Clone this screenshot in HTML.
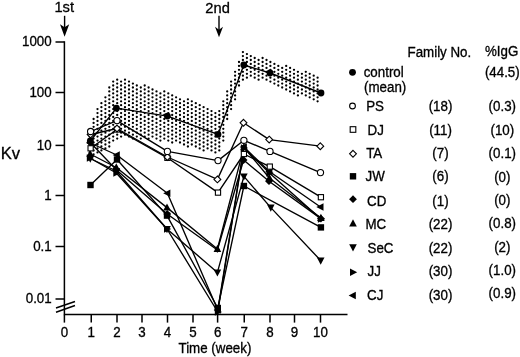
<!DOCTYPE html>
<html><head><meta charset="utf-8"><title>Kv time course</title>
<style>
html,body{margin:0;padding:0;background:#fff;}
body{width:520px;height:357px;overflow:hidden;}
svg{display:block;will-change:transform;}
text{font-family:"Liberation Sans",Arial,Helvetica,sans-serif;fill:#000;stroke:#000;stroke-width:0.3px;}
</style></head><body>
<svg width="520" height="357" viewBox="0 0 520 357">
<rect width="520" height="357" fill="#fff"/>
<path d="M89.7 132.7h0M89.7 136.6h0M89.7 140.6h0M89.7 144.5h0M89.7 148.4h0M89.7 152.4h0M93.6 119.0h0M93.6 122.9h0M93.6 126.8h0M93.6 130.7h0M93.6 134.7h0M93.6 138.6h0M93.6 142.5h0M93.6 146.5h0M93.6 150.4h0M93.6 154.3h0M97.5 109.1h0M97.5 113.1h0M97.5 117.0h0M97.5 120.9h0M97.5 124.8h0M97.5 128.8h0M97.5 132.7h0M97.5 136.6h0M97.5 140.6h0M97.5 144.5h0M97.5 148.4h0M97.5 152.4h0M101.4 103.2h0M101.4 107.2h0M101.4 111.1h0M101.4 115.0h0M101.4 119.0h0M101.4 122.9h0M101.4 126.8h0M101.4 130.7h0M101.4 134.7h0M101.4 138.6h0M101.4 142.5h0M101.4 146.5h0M101.4 150.4h0M105.4 97.3h0M105.4 101.3h0M105.4 105.2h0M105.4 109.1h0M105.4 113.1h0M105.4 117.0h0M105.4 120.9h0M105.4 124.8h0M105.4 128.8h0M105.4 132.7h0M105.4 136.6h0M105.4 140.6h0M105.4 144.5h0M105.4 148.4h0M109.3 87.5h0M109.3 91.4h0M109.3 95.4h0M109.3 99.3h0M109.3 103.2h0M109.3 107.2h0M109.3 111.1h0M109.3 115.0h0M109.3 119.0h0M109.3 122.9h0M109.3 126.8h0M109.3 130.7h0M109.3 134.7h0M109.3 138.6h0M109.3 142.5h0M109.3 146.5h0M113.2 81.6h0M113.2 85.5h0M113.2 89.5h0M113.2 93.4h0M113.2 97.3h0M113.2 101.3h0M113.2 105.2h0M113.2 109.1h0M113.2 113.1h0M113.2 117.0h0M113.2 120.9h0M113.2 124.8h0M113.2 128.8h0M113.2 132.7h0M113.2 136.6h0M113.2 140.6h0M117.2 79.7h0M117.2 83.6h0M117.2 87.5h0M117.2 91.4h0M117.2 95.4h0M117.2 99.3h0M117.2 103.2h0M117.2 107.2h0M117.2 111.1h0M117.2 115.0h0M117.2 119.0h0M117.2 122.9h0M117.2 126.8h0M117.2 130.7h0M117.2 134.7h0M117.2 138.6h0M121.1 81.6h0M121.1 85.5h0M121.1 89.5h0M121.1 93.4h0M121.1 97.3h0M121.1 101.3h0M121.1 105.2h0M121.1 109.1h0M121.1 113.1h0M121.1 117.0h0M121.1 120.9h0M121.1 124.8h0M121.1 128.8h0M121.1 132.7h0M121.1 136.6h0M125.0 79.7h0M125.0 83.6h0M125.0 87.5h0M125.0 91.4h0M125.0 95.4h0M125.0 99.3h0M125.0 103.2h0M125.0 107.2h0M125.0 111.1h0M125.0 115.0h0M125.0 119.0h0M125.0 122.9h0M125.0 126.8h0M125.0 130.7h0M125.0 134.7h0M129.0 81.6h0M129.0 85.5h0M129.0 89.5h0M129.0 93.4h0M129.0 97.3h0M129.0 101.3h0M129.0 105.2h0M129.0 109.1h0M129.0 113.1h0M129.0 117.0h0M129.0 120.9h0M129.0 124.8h0M129.0 128.8h0M129.0 132.7h0M129.0 136.6h0M132.9 83.6h0M132.9 87.5h0M132.9 91.4h0M132.9 95.4h0M132.9 99.3h0M132.9 103.2h0M132.9 107.2h0M132.9 111.1h0M132.9 115.0h0M132.9 119.0h0M132.9 122.9h0M132.9 126.8h0M132.9 130.7h0M132.9 134.7h0M132.9 138.6h0M136.8 85.5h0M136.8 89.5h0M136.8 93.4h0M136.8 97.3h0M136.8 101.3h0M136.8 105.2h0M136.8 109.1h0M136.8 113.1h0M136.8 117.0h0M136.8 120.9h0M136.8 124.8h0M136.8 128.8h0M136.8 132.7h0M136.8 136.6h0M140.8 87.5h0M140.8 91.4h0M140.8 95.4h0M140.8 99.3h0M140.8 103.2h0M140.8 107.2h0M140.8 111.1h0M140.8 115.0h0M140.8 119.0h0M140.8 122.9h0M140.8 126.8h0M140.8 130.7h0M140.8 134.7h0M140.8 138.6h0M144.7 85.5h0M144.7 89.5h0M144.7 93.4h0M144.7 97.3h0M144.7 101.3h0M144.7 105.2h0M144.7 109.1h0M144.7 113.1h0M144.7 117.0h0M144.7 120.9h0M144.7 124.8h0M144.7 128.8h0M144.7 132.7h0M144.7 136.6h0M148.6 87.5h0M148.6 91.4h0M148.6 95.4h0M148.6 99.3h0M148.6 103.2h0M148.6 107.2h0M148.6 111.1h0M148.6 115.0h0M148.6 119.0h0M148.6 122.9h0M148.6 126.8h0M148.6 130.7h0M148.6 134.7h0M148.6 138.6h0M152.5 89.5h0M152.5 93.4h0M152.5 97.3h0M152.5 101.3h0M152.5 105.2h0M152.5 109.1h0M152.5 113.1h0M152.5 117.0h0M152.5 120.9h0M152.5 124.8h0M152.5 128.8h0M152.5 132.7h0M152.5 136.6h0M156.5 91.4h0M156.5 95.4h0M156.5 99.3h0M156.5 103.2h0M156.5 107.2h0M156.5 111.1h0M156.5 115.0h0M156.5 119.0h0M156.5 122.9h0M156.5 126.8h0M156.5 130.7h0M156.5 134.7h0M156.5 138.6h0M160.4 93.4h0M160.4 97.3h0M160.4 101.3h0M160.4 105.2h0M160.4 109.1h0M160.4 113.1h0M160.4 117.0h0M160.4 120.9h0M160.4 124.8h0M160.4 128.8h0M160.4 132.7h0M160.4 136.6h0M160.4 140.6h0M164.3 91.4h0M164.3 95.4h0M164.3 99.3h0M164.3 103.2h0M164.3 107.2h0M164.3 111.1h0M164.3 115.0h0M164.3 119.0h0M164.3 122.9h0M164.3 126.8h0M164.3 130.7h0M164.3 134.7h0M164.3 138.6h0M168.3 93.4h0M168.3 97.3h0M168.3 101.3h0M168.3 105.2h0M168.3 109.1h0M168.3 113.1h0M168.3 117.0h0M168.3 120.9h0M168.3 124.8h0M168.3 128.8h0M168.3 132.7h0M168.3 136.6h0M168.3 140.6h0M172.2 95.4h0M172.2 99.3h0M172.2 103.2h0M172.2 107.2h0M172.2 111.1h0M172.2 115.0h0M172.2 119.0h0M172.2 122.9h0M172.2 126.8h0M172.2 130.7h0M172.2 134.7h0M172.2 138.6h0M172.2 142.5h0M176.1 97.3h0M176.1 101.3h0M176.1 105.2h0M176.1 109.1h0M176.1 113.1h0M176.1 117.0h0M176.1 120.9h0M176.1 124.8h0M176.1 128.8h0M176.1 132.7h0M176.1 136.6h0M176.1 140.6h0M180.0 99.3h0M180.0 103.2h0M180.0 107.2h0M180.0 111.1h0M180.0 115.0h0M180.0 119.0h0M180.0 122.9h0M180.0 126.8h0M180.0 130.7h0M180.0 134.7h0M180.0 138.6h0M180.0 142.5h0M184.0 101.3h0M184.0 105.2h0M184.0 109.1h0M184.0 113.1h0M184.0 117.0h0M184.0 120.9h0M184.0 124.8h0M184.0 128.8h0M184.0 132.7h0M184.0 136.6h0M184.0 140.6h0M184.0 144.5h0M187.9 99.3h0M187.9 103.2h0M187.9 107.2h0M187.9 111.1h0M187.9 115.0h0M187.9 119.0h0M187.9 122.9h0M187.9 126.8h0M187.9 130.7h0M187.9 134.7h0M187.9 138.6h0M187.9 142.5h0M187.9 146.5h0M191.8 101.3h0M191.8 105.2h0M191.8 109.1h0M191.8 113.1h0M191.8 117.0h0M191.8 120.9h0M191.8 124.8h0M191.8 128.8h0M191.8 132.7h0M191.8 136.6h0M191.8 140.6h0M191.8 144.5h0M195.8 103.2h0M195.8 107.2h0M195.8 111.1h0M195.8 115.0h0M195.8 119.0h0M195.8 122.9h0M195.8 126.8h0M195.8 130.7h0M195.8 134.7h0M195.8 138.6h0M195.8 142.5h0M195.8 146.5h0M199.7 105.2h0M199.7 109.1h0M199.7 113.1h0M199.7 117.0h0M199.7 120.9h0M199.7 124.8h0M199.7 128.8h0M199.7 132.7h0M199.7 136.6h0M199.7 140.6h0M199.7 144.5h0M199.7 148.4h0M203.6 107.2h0M203.6 111.1h0M203.6 115.0h0M203.6 119.0h0M203.6 122.9h0M203.6 126.8h0M203.6 130.7h0M203.6 134.7h0M203.6 138.6h0M203.6 142.5h0M203.6 146.5h0M203.6 150.4h0M207.6 109.1h0M207.6 113.1h0M207.6 117.0h0M207.6 120.9h0M207.6 124.8h0M207.6 128.8h0M207.6 132.7h0M207.6 136.6h0M207.6 140.6h0M207.6 144.5h0M207.6 148.4h0M211.5 111.1h0M211.5 115.0h0M211.5 119.0h0M211.5 122.9h0M211.5 126.8h0M211.5 130.7h0M211.5 134.7h0M211.5 138.6h0M211.5 142.5h0M211.5 146.5h0M211.5 150.4h0M215.4 113.1h0M215.4 117.0h0M215.4 120.9h0M215.4 124.8h0M215.4 128.8h0M215.4 132.7h0M215.4 136.6h0M215.4 140.6h0M215.4 144.5h0M215.4 148.4h0M215.4 152.4h0M219.3 111.1h0M219.3 115.0h0M219.3 119.0h0M219.3 122.9h0M219.3 126.8h0M219.3 130.7h0M219.3 134.7h0M219.3 138.6h0M219.3 142.5h0M219.3 146.5h0M219.3 150.4h0M223.3 101.3h0M223.3 105.2h0M223.3 109.1h0M223.3 113.1h0M223.3 117.0h0M223.3 120.9h0M223.3 124.8h0M223.3 128.8h0M223.3 132.7h0M223.3 136.6h0M223.3 140.6h0M227.2 91.4h0M227.2 95.4h0M227.2 99.3h0M227.2 103.2h0M227.2 107.2h0M227.2 111.1h0M227.2 115.0h0M227.2 119.0h0M231.1 81.6h0M231.1 85.5h0M231.1 89.5h0M231.1 93.4h0M231.1 97.3h0M231.1 101.3h0M231.1 105.2h0M231.1 109.1h0M235.1 71.8h0M235.1 75.7h0M235.1 79.7h0M235.1 83.6h0M235.1 87.5h0M235.1 91.4h0M235.1 95.4h0M235.1 99.3h0M239.0 62.0h0M239.0 65.9h0M239.0 69.8h0M239.0 73.8h0M239.0 77.7h0M239.0 81.6h0M239.0 85.5h0M242.9 52.1h0M242.9 56.1h0M242.9 60.0h0M242.9 63.9h0M242.9 67.9h0M242.9 71.8h0M242.9 75.7h0M242.9 79.7h0M246.9 54.1h0M246.9 58.0h0M246.9 62.0h0M246.9 65.9h0M246.9 69.8h0M246.9 73.8h0M246.9 77.7h0M250.8 56.1h0M250.8 60.0h0M250.8 63.9h0M250.8 67.9h0M250.8 71.8h0M250.8 75.7h0M254.7 58.0h0M254.7 62.0h0M254.7 65.9h0M254.7 69.8h0M254.7 73.8h0M254.7 77.7h0M258.6 60.0h0M258.6 63.9h0M258.6 67.9h0M258.6 71.8h0M258.6 75.7h0M258.6 79.7h0M262.6 58.0h0M262.6 62.0h0M262.6 65.9h0M262.6 69.8h0M262.6 73.8h0M262.6 77.7h0M266.5 60.0h0M266.5 63.9h0M266.5 67.9h0M266.5 71.8h0M266.5 75.7h0M266.5 79.7h0M270.4 62.0h0M270.4 65.9h0M270.4 69.8h0M270.4 73.8h0M270.4 77.7h0M270.4 81.6h0M274.4 63.9h0M274.4 67.9h0M274.4 71.8h0M274.4 75.7h0M274.4 79.7h0M274.4 83.6h0M278.3 65.9h0M278.3 69.8h0M278.3 73.8h0M278.3 77.7h0M278.3 81.6h0M278.3 85.5h0M282.2 67.9h0M282.2 71.8h0M282.2 75.7h0M282.2 79.7h0M282.2 83.6h0M282.2 87.5h0M286.2 65.9h0M286.2 69.8h0M286.2 73.8h0M286.2 77.7h0M286.2 81.6h0M286.2 85.5h0M286.2 89.5h0M290.1 67.9h0M290.1 71.8h0M290.1 75.7h0M290.1 79.7h0M290.1 83.6h0M290.1 87.5h0M290.1 91.4h0M294.0 69.8h0M294.0 73.8h0M294.0 77.7h0M294.0 81.6h0M294.0 85.5h0M294.0 89.5h0M294.0 93.4h0M297.9 71.8h0M297.9 75.7h0M297.9 79.7h0M297.9 83.6h0M297.9 87.5h0M297.9 91.4h0M297.9 95.4h0M301.9 73.8h0M301.9 77.7h0M301.9 81.6h0M301.9 85.5h0M301.9 89.5h0M301.9 93.4h0M305.8 71.8h0M305.8 75.7h0M305.8 79.7h0M305.8 83.6h0M305.8 87.5h0M305.8 91.4h0M305.8 95.4h0M309.7 73.8h0M309.7 77.7h0M309.7 81.6h0M309.7 85.5h0M309.7 89.5h0M309.7 93.4h0M309.7 97.3h0M313.7 75.7h0M313.7 79.7h0M313.7 83.6h0M313.7 87.5h0M313.7 91.4h0M313.7 95.4h0M313.7 99.3h0M317.6 77.7h0M317.6 81.6h0M317.6 85.5h0M317.6 89.5h0M317.6 93.4h0M317.6 97.3h0M317.6 101.3h0" stroke="#000" stroke-width="2.3" stroke-linecap="round" fill="none"/>
<g stroke="#000" stroke-width="1.5" fill="none">
<path d="M64.4 41.3V314.6H347.5"/>
<path d="M55.5 42H64.4"/>
<path d="M55.5 92.5H64.4"/>
<path d="M55.5 145.4H64.4"/>
<path d="M55.5 195.5H64.4"/>
<path d="M55.5 246.5H64.4"/>
<path d="M55.5 299H64.4"/>
<path d="M64.4 314.6V322.6"/>
<path d="M91.25 314.6V322.6"/>
<path d="M117 314.6V322.6"/>
<path d="M142 314.6V322.6"/>
<path d="M167.5 314.6V322.6"/>
<path d="M193 314.6V322.6"/>
<path d="M217.6 314.6V322.6"/>
<path d="M244.25 314.6V322.6"/>
<path d="M270 314.6V322.6"/>
<path d="M294.5 314.6V322.6"/>
<path d="M320.5 314.6V322.6"/>
<path d="M56 308L75 301.5M56 312.2L75 305.5"/>
</g>
<path d="M64.6 15.8V30.700000000000003" stroke="#000" stroke-width="1.4" fill="none"/>
<path d="M64.6 36.7L59.99999999999999 24.200000000000003L64.6 27.200000000000003L69.19999999999999 24.200000000000003Z" fill="#000"/>
<path d="M219 15.8V31.200000000000003" stroke="#000" stroke-width="1.4" fill="none"/>
<path d="M219 37.2L215.0 26.700000000000003L219 29.700000000000003L223.0 26.700000000000003Z" fill="#000"/>
<polyline points="90.3,143 116.8,155 167.4,193.3 217.8,310 243.9,147 269.4,171.5 320.5,207" stroke="#000" stroke-width="1.35" fill="none" stroke-linejoin="round"/>
<polyline points="89.8,158 116.3,173 167,229 217.8,312 243.9,148 269.4,173 320.9,219" stroke="#000" stroke-width="1.35" fill="none" stroke-linejoin="round"/>
<polyline points="90.3,158.5 116.3,171 167,229 217.4,272.4 243.9,176.4 270.8,207.6 320.7,260.5" stroke="#000" stroke-width="1.35" fill="none" stroke-linejoin="round"/>
<polyline points="90.2,154 116.3,167.5 167,207.6 217.4,249 243.9,147.3 269.4,178 320.9,218" stroke="#000" stroke-width="1.35" fill="none" stroke-linejoin="round"/>
<polyline points="90.3,142.5 116.5,170 167.2,214 217.4,250 243.6,160 269,181.2 320.9,218.6" stroke="#000" stroke-width="1.35" fill="none" stroke-linejoin="round"/>
<polyline points="90.5,185 117,159.5 167,215.6 217.8,308 243.9,186 320.9,227.4" stroke="#000" stroke-width="1.35" fill="none" stroke-linejoin="round"/>
<polyline points="90.6,134.5 117,128.5 167.4,157 217.4,179.4 243.5,122.8 269.2,139.6 320.3,146.2" stroke="#000" stroke-width="1.35" fill="none" stroke-linejoin="round"/>
<polyline points="90.6,148.3 117,129.5 167.4,157.8 218,192.6 243.9,154 269.8,166.6 320.9,197.2" stroke="#000" stroke-width="1.35" fill="none" stroke-linejoin="round"/>
<polyline points="90.6,131.5 117,120.6 167.4,151.4 218,160.6 243.9,140.3 270,151.4 320.5,172.6" stroke="#000" stroke-width="1.35" fill="none" stroke-linejoin="round"/>
<polyline points="90.3,141 116.4,108.2 167.4,116.1 218,134.4 243.8,65 270,73 321,93" stroke="#000" stroke-width="1.35" fill="none" stroke-linejoin="round"/>
<path d="M86.1 143L93.3 139.2L93.3 146.8Z" fill="#000"/>
<path d="M112.6 155L119.8 151.2L119.8 158.8Z" fill="#000"/>
<path d="M163.20000000000002 193.3L170.4 189.5L170.4 197.10000000000002Z" fill="#000"/>
<path d="M213.60000000000002 310L220.8 306.2L220.8 313.8Z" fill="#000"/>
<path d="M239.70000000000002 147L246.9 143.2L246.9 150.8Z" fill="#000"/>
<path d="M265.2 171.5L272.4 167.7L272.4 175.3Z" fill="#000"/>
<path d="M316.3 207L323.5 203.2L323.5 210.8Z" fill="#000"/>
<path d="M94.0 158L86.8 154.2L86.8 161.8Z" fill="#000"/>
<path d="M120.5 173L113.3 169.2L113.3 176.8Z" fill="#000"/>
<path d="M171.2 229L164.0 225.2L164.0 232.8Z" fill="#000"/>
<path d="M222.0 312L214.8 308.2L214.8 315.8Z" fill="#000"/>
<path d="M248.1 148L240.9 144.2L240.9 151.8Z" fill="#000"/>
<path d="M273.59999999999997 173L266.4 169.2L266.4 176.8Z" fill="#000"/>
<path d="M325.09999999999997 219L317.9 215.2L317.9 222.8Z" fill="#000"/>
<path d="M90.3 162.7L94.1 155.5L86.5 155.5Z" fill="#000"/>
<path d="M116.3 175.2L120.1 168.0L112.5 168.0Z" fill="#000"/>
<path d="M167 233.2L170.8 226.0L163.2 226.0Z" fill="#000"/>
<path d="M217.4 276.59999999999997L221.20000000000002 269.4L213.6 269.4Z" fill="#000"/>
<path d="M243.9 180.6L247.70000000000002 173.4L240.1 173.4Z" fill="#000"/>
<path d="M270.8 211.79999999999998L274.6 204.6L267.0 204.6Z" fill="#000"/>
<path d="M320.7 264.7L324.5 257.5L316.9 257.5Z" fill="#000"/>
<path d="M90.3 138.6L94.2 142.5L90.3 146.4L86.39999999999999 142.5Z" fill="#000"/>
<path d="M116.5 166.1L120.4 170L116.5 173.9L112.6 170Z" fill="#000"/>
<path d="M167.2 210.1L171.1 214L167.2 217.9L163.29999999999998 214Z" fill="#000"/>
<path d="M217.4 247.192L220.208 250L217.4 252.808L214.592 250Z" fill="#000"/>
<path d="M90.2 149.8L94.0 157.0L86.4 157.0Z" fill="#000"/>
<path d="M116.3 163.3L120.1 170.5L112.5 170.5Z" fill="#000"/>
<path d="M167 203.4L170.8 210.6L163.2 210.6Z" fill="#000"/>
<path d="M217.4 244.8L221.20000000000002 252.0L213.6 252.0Z" fill="#000"/>
<path d="M243.9 143.10000000000002L247.70000000000002 150.3L240.1 150.3Z" fill="#000"/>
<path d="M269.4 173.8L273.2 181.0L265.59999999999997 181.0Z" fill="#000"/>
<path d="M320.9 213.8L324.7 221.0L317.09999999999997 221.0Z" fill="#000"/>
<path d="M243.6 156.1L247.5 160L243.6 163.9L239.7 160Z" fill="#000"/>
<path d="M269 177.29999999999998L272.9 181.2L269 185.1L265.1 181.2Z" fill="#000"/>
<path d="M320.9 214.7L324.79999999999995 218.6L320.9 222.5L317.0 218.6Z" fill="#000"/>
<rect x="87.3" y="181.8" width="6.4" height="6.4" fill="#000"/>
<rect x="113.8" y="156.3" width="6.4" height="6.4" fill="#000"/>
<rect x="163.8" y="212.4" width="6.4" height="6.4" fill="#000"/>
<rect x="214.60000000000002" y="304.8" width="6.4" height="6.4" fill="#000"/>
<rect x="240.70000000000002" y="182.8" width="6.4" height="6.4" fill="#000"/>
<rect x="317.7" y="224.20000000000002" width="6.4" height="6.4" fill="#000"/>
<rect x="88.0" y="145.70000000000002" width="5.2" height="5.2" fill="#fff" stroke="#000" stroke-width="1.1"/>
<rect x="114.4" y="126.9" width="5.2" height="5.2" fill="#fff" stroke="#000" stroke-width="1.1"/>
<rect x="164.8" y="155.20000000000002" width="5.2" height="5.2" fill="#fff" stroke="#000" stroke-width="1.1"/>
<rect x="215.4" y="190.0" width="5.2" height="5.2" fill="#fff" stroke="#000" stroke-width="1.1"/>
<rect x="241.3" y="151.4" width="5.2" height="5.2" fill="#fff" stroke="#000" stroke-width="1.1"/>
<rect x="267.2" y="164.0" width="5.2" height="5.2" fill="#fff" stroke="#000" stroke-width="1.1"/>
<rect x="318.29999999999995" y="194.6" width="5.2" height="5.2" fill="#fff" stroke="#000" stroke-width="1.1"/>
<path d="M90.6 131.1L94.0 134.5L90.6 137.9L87.19999999999999 134.5Z" fill="#fff" stroke="#000" stroke-width="1.1"/>
<path d="M117 125.1L120.4 128.5L117 131.9L113.6 128.5Z" fill="#fff" stroke="#000" stroke-width="1.1"/>
<path d="M167.4 153.6L170.8 157L167.4 160.4L164.0 157Z" fill="#fff" stroke="#000" stroke-width="1.1"/>
<path d="M217.4 176.0L220.8 179.4L217.4 182.8L214.0 179.4Z" fill="#fff" stroke="#000" stroke-width="1.1"/>
<path d="M243.5 119.39999999999999L246.9 122.8L243.5 126.2L240.1 122.8Z" fill="#fff" stroke="#000" stroke-width="1.1"/>
<path d="M269.2 136.2L272.59999999999997 139.6L269.2 143.0L265.8 139.6Z" fill="#fff" stroke="#000" stroke-width="1.1"/>
<path d="M320.3 142.79999999999998L323.7 146.2L320.3 149.6L316.90000000000003 146.2Z" fill="#fff" stroke="#000" stroke-width="1.1"/>
<circle cx="90.6" cy="131.5" r="3.1" fill="#fff" stroke="#000" stroke-width="1.1"/>
<circle cx="117" cy="120.6" r="3.1" fill="#fff" stroke="#000" stroke-width="1.1"/>
<circle cx="167.4" cy="151.4" r="3.1" fill="#fff" stroke="#000" stroke-width="1.1"/>
<circle cx="218" cy="160.6" r="3.1" fill="#fff" stroke="#000" stroke-width="1.1"/>
<circle cx="243.9" cy="140.3" r="3.1" fill="#fff" stroke="#000" stroke-width="1.1"/>
<circle cx="270" cy="151.4" r="3.1" fill="#fff" stroke="#000" stroke-width="1.1"/>
<circle cx="320.5" cy="172.6" r="3.1" fill="#fff" stroke="#000" stroke-width="1.1"/>
<circle cx="90.3" cy="141" r="3.4" fill="#000"/>
<circle cx="116.4" cy="108.2" r="3.4" fill="#000"/>
<circle cx="167.4" cy="116.1" r="3.4" fill="#000"/>
<circle cx="218" cy="134.4" r="3.4" fill="#000"/>
<circle cx="243.8" cy="65" r="3.4" fill="#000"/>
<circle cx="270" cy="73" r="3.4" fill="#000"/>
<circle cx="321" cy="93" r="3.4" fill="#000"/>
<circle cx="352.5" cy="72.3" r="3.4" fill="#000"/>
<circle cx="352.5" cy="106" r="2.8830000000000005" fill="#fff" stroke="#000" stroke-width="1.1"/>
<rect x="350.192" y="126.692" width="5.6160000000000005" height="5.6160000000000005" fill="#fff" stroke="#000" stroke-width="1.1"/>
<path d="M353 150.4L356.4 153.8L353 157.20000000000002L349.6 153.8Z" fill="#fff" stroke="#000" stroke-width="1.1"/>
<rect x="349.8" y="173.10000000000002" width="6.4" height="6.4" fill="#000"/>
<path d="M353 195.29999999999998L356.9 199.2L353 203.1L349.1 199.2Z" fill="#000"/>
<path d="M353 219.3L356.8 226.5L349.2 226.5Z" fill="#000"/>
<path d="M353 251.5L356.8 244.3L349.2 244.3Z" fill="#000"/>
<path d="M357.2 272.3L350.0 268.5L350.0 276.1Z" fill="#000"/>
<path d="M348.6 295.5L355.8 291.7L355.8 299.3Z" fill="#000"/>
<text transform="translate(64.2 12.2) scale(1 1.045)" font-size="14.7" text-anchor="middle" >1st</text>
<text transform="translate(217.6 12.8) scale(1 1.045)" font-size="14.7" text-anchor="middle" >2nd</text>
<text transform="translate(51.7 46.4) scale(1 1.045)" font-size="13.35" text-anchor="end" >1000</text>
<text transform="translate(51.7 96.9) scale(1 1.045)" font-size="13.35" text-anchor="end" >100</text>
<text transform="translate(51.7 149.8) scale(1 1.045)" font-size="13.35" text-anchor="end" >10</text>
<text transform="translate(51.7 199.9) scale(1 1.045)" font-size="13.35" text-anchor="end" >1</text>
<text transform="translate(51.7 250.9) scale(1 1.045)" font-size="13.35" text-anchor="end" >0.1</text>
<text transform="translate(51.7 303.4) scale(1 1.045)" font-size="13.35" text-anchor="end" >0.01</text>
<text transform="translate(0.8 159) scale(1 1.045)" font-size="16.6" text-anchor="start" >Kv</text>
<text transform="translate(64.4 336.8) scale(1 1.045)" font-size="13.35" text-anchor="middle" >0</text>
<text transform="translate(91.25 336.8) scale(1 1.045)" font-size="13.35" text-anchor="middle" >1</text>
<text transform="translate(117 336.8) scale(1 1.045)" font-size="13.35" text-anchor="middle" >2</text>
<text transform="translate(142 336.8) scale(1 1.045)" font-size="13.35" text-anchor="middle" >3</text>
<text transform="translate(167.5 336.8) scale(1 1.045)" font-size="13.35" text-anchor="middle" >4</text>
<text transform="translate(193 336.8) scale(1 1.045)" font-size="13.35" text-anchor="middle" >5</text>
<text transform="translate(217.6 336.8) scale(1 1.045)" font-size="13.35" text-anchor="middle" >6</text>
<text transform="translate(244.25 336.8) scale(1 1.045)" font-size="13.35" text-anchor="middle" >7</text>
<text transform="translate(270 336.8) scale(1 1.045)" font-size="13.35" text-anchor="middle" >8</text>
<text transform="translate(294.5 336.8) scale(1 1.045)" font-size="13.35" text-anchor="middle" >9</text>
<text transform="translate(320.5 336.8) scale(1 1.045)" font-size="13.35" text-anchor="middle" >10</text>
<text transform="translate(178.5 352.5) scale(1 1.045)" font-size="13.35" text-anchor="start" >Time (week)</text>
<text transform="translate(407.5 57.2) scale(1 1.045)" font-size="13.35" text-anchor="start" >Family No.</text>
<text transform="translate(485 56.2) scale(1 1.045)" font-size="13.35" text-anchor="start" >%IgG</text>
<text transform="translate(363.7 76.5) scale(1 1.045)" font-size="13.35" text-anchor="start" >control</text>
<text transform="translate(364 91.5) scale(1 1.045)" font-size="13.35" text-anchor="start" >(mean)</text>
<text transform="translate(502.3 77.2) scale(1 1.045)" font-size="13.35" text-anchor="middle" >(44.5)</text>
<text transform="translate(366.2 110.5) scale(1 1.045)" font-size="13.35" text-anchor="start" >PS</text>
<text transform="translate(440.5 110.5) scale(1 1.045)" font-size="13.35" text-anchor="middle" >(18)</text>
<text transform="translate(502.3 110.5) scale(1 1.045)" font-size="13.35" text-anchor="middle" >(0.3)</text>
<text transform="translate(367.5 134.5) scale(1 1.045)" font-size="13.35" text-anchor="start" >DJ</text>
<text transform="translate(440.5 134.5) scale(1 1.045)" font-size="13.35" text-anchor="middle" >(11)</text>
<text transform="translate(502.3 134.5) scale(1 1.045)" font-size="13.35" text-anchor="middle" >(10)</text>
<text transform="translate(366.2 158) scale(1 1.045)" font-size="13.35" text-anchor="start" >TA</text>
<text transform="translate(440.5 158) scale(1 1.045)" font-size="13.35" text-anchor="middle" >(7)</text>
<text transform="translate(502.3 158) scale(1 1.045)" font-size="13.35" text-anchor="middle" >(0.1)</text>
<text transform="translate(365.5 181.3) scale(1 1.045)" font-size="13.35" text-anchor="start" >JW</text>
<text transform="translate(440.5 181.3) scale(1 1.045)" font-size="13.35" text-anchor="middle" >(6)</text>
<text transform="translate(502.3 182) scale(1 1.045)" font-size="13.35" text-anchor="middle" >(0)</text>
<text transform="translate(367 205.5) scale(1 1.045)" font-size="13.35" text-anchor="start" >CD</text>
<text transform="translate(440.5 205.5) scale(1 1.045)" font-size="13.35" text-anchor="middle" >(1)</text>
<text transform="translate(502.3 205) scale(1 1.045)" font-size="13.35" text-anchor="middle" >(0)</text>
<text transform="translate(365.5 228.8) scale(1 1.045)" font-size="13.35" text-anchor="start" >MC</text>
<text transform="translate(440.5 228.8) scale(1 1.045)" font-size="13.35" text-anchor="middle" >(22)</text>
<text transform="translate(502.3 228) scale(1 1.045)" font-size="13.35" text-anchor="middle" >(0.8)</text>
<text transform="translate(367.5 252.5) scale(1 1.045)" font-size="13.35" text-anchor="start" >SeC</text>
<text transform="translate(440.5 252.5) scale(1 1.045)" font-size="13.35" text-anchor="middle" >(22)</text>
<text transform="translate(502.3 252) scale(1 1.045)" font-size="13.35" text-anchor="middle" >(2)</text>
<text transform="translate(367.5 276.3) scale(1 1.045)" font-size="13.35" text-anchor="start" >JJ</text>
<text transform="translate(440.5 276.3) scale(1 1.045)" font-size="13.35" text-anchor="middle" >(30)</text>
<text transform="translate(502.3 275) scale(1 1.045)" font-size="13.35" text-anchor="middle" >(1.0)</text>
<text transform="translate(367 300) scale(1 1.045)" font-size="13.35" text-anchor="start" >CJ</text>
<text transform="translate(440.5 300) scale(1 1.045)" font-size="13.35" text-anchor="middle" >(30)</text>
<text transform="translate(502.3 297.8) scale(1 1.045)" font-size="13.35" text-anchor="middle" >(0.9)</text>
</svg></body></html>
